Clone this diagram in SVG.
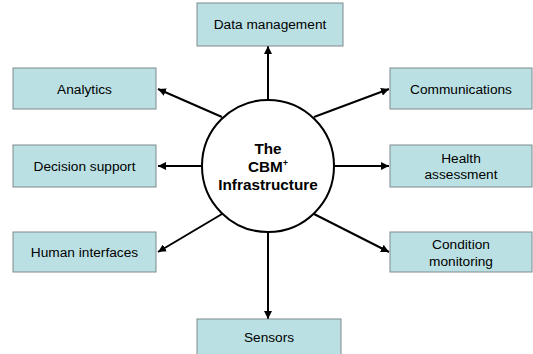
<svg xmlns="http://www.w3.org/2000/svg" width="533" height="354" viewBox="0 0 533 354">
<style>
.box{fill:#bbe0e3;stroke:#7f8a8c;stroke-width:1}
.lbl{font-family:"Liberation Sans",Arial,sans-serif;font-size:13.7px;fill:#000;text-anchor:middle}
.ctr{font-family:"Liberation Sans",Arial,sans-serif;font-size:15.3px;font-weight:bold;fill:#000;text-anchor:middle}
.con{stroke:#000;stroke-width:2;fill:none;marker-end:url(#ah)}
</style>
<defs>
<marker id="ah" markerWidth="8" markerHeight="8" viewBox="0 0 10 10" refX="10" refY="5" orient="auto" markerUnits="userSpaceOnUse">
<path d="M0,0 L10,5 L0,10 z" fill="#000"/>
</marker>
</defs>
<rect width="533" height="354" fill="#fff"/>
<g id="connectors">
<line class="con" x1="268" y1="99" x2="268" y2="46"/>
<line class="con" x1="222" y1="117" x2="158" y2="89"/>
<line class="con" x1="202" y1="166" x2="158" y2="166"/>
<line class="con" x1="222" y1="214" x2="158" y2="252"/>
<line class="con" x1="314" y1="117" x2="389" y2="89"/>
<line class="con" x1="334" y1="166" x2="389" y2="166"/>
<line class="con" x1="314" y1="214" x2="389" y2="252"/>
<line class="con" x1="268" y1="232" x2="268" y2="319"/>
</g>
<g id="center">
<circle cx="268" cy="166" r="66" fill="#fff" stroke="#000" stroke-width="2"/>
<text class="ctr" x="268" y="154">The</text>
<text class="ctr" x="268" y="172">CBM<tspan font-size="9" dy="-6">+</tspan></text>
<text class="ctr" x="268" y="190">Infrastructure</text>
</g>
<g id="data-management"><rect class="box" x="197" y="3" width="146" height="43"/><text class="lbl" x="270" y="29">Data management</text></g>
<g id="analytics"><rect class="box" x="13" y="68" width="143" height="41"/><text class="lbl" x="84.5" y="94">Analytics</text></g>
<g id="decision-support"><rect class="box" x="13" y="145" width="143" height="42"/><text class="lbl" x="84.5" y="171">Decision support</text></g>
<g id="human-interfaces"><rect class="box" x="13" y="232" width="143" height="40"/><text class="lbl" x="84.5" y="257">Human interfaces</text></g>
<g id="communications"><rect class="box" x="390" y="68" width="142" height="41"/><text class="lbl" x="461" y="94">Communications</text></g>
<g id="health-assessment"><rect class="box" x="390" y="145" width="142" height="42"/><text class="lbl" x="461" y="163">Health</text><text class="lbl" x="461" y="179">assessment</text></g>
<g id="condition-monitoring"><rect class="box" x="390" y="232" width="142" height="40"/><text class="lbl" x="461" y="249">Condition</text><text class="lbl" x="461" y="266">monitoring</text></g>
<g id="sensors"><rect class="box" x="197" y="319" width="144" height="40"/><text class="lbl" x="269" y="342">Sensors</text></g>
</svg>
